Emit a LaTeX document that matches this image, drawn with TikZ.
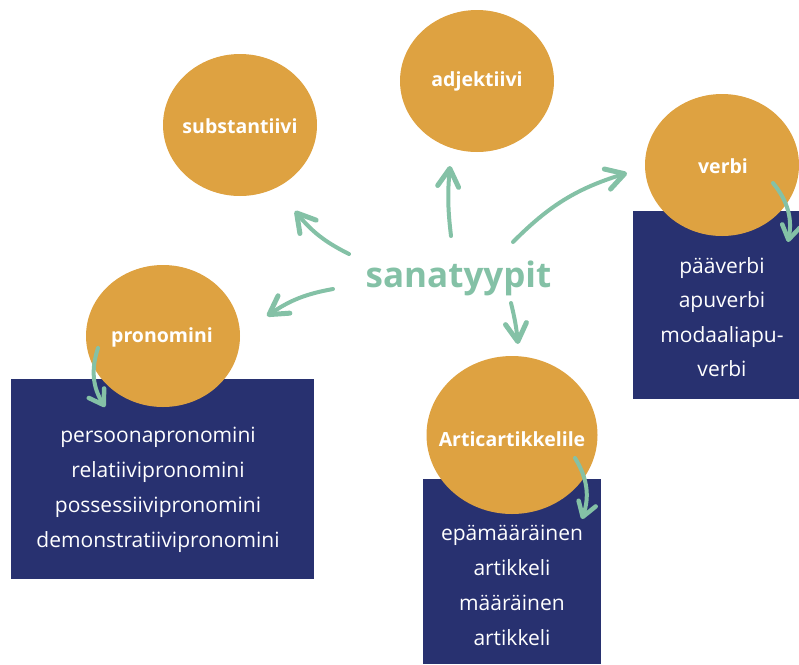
\documentclass[tikz,border=0pt]{standalone}
\usepackage{fontspec}
\setmainfont{Open Sans}
\usetikzlibrary{shapes.geometric,arrows.meta}
\definecolor{orng}{HTML}{DEA241}
\definecolor{navy}{HTML}{283170}
\definecolor{mint}{HTML}{84C1A6}
\begin{document}
\begin{tikzpicture}[x=1pt,y=-1pt,
  bubble/.style={ellipse, fill=orng, inner sep=0pt, minimum width=154pt, minimum height=142pt},
  blabel/.style={text=white, inner sep=0pt, font=\bfseries\fontsize{19.5}{22}\selectfont},
  panel/.style={fill=navy, draw=none, inner sep=0pt},
  plist/.style={text=white, align=center, inner sep=0pt, font=\fontsize{21}{35}\selectfont},
  arr/.style={draw=mint, line width=4pt, line cap=round,
    -{Straight Barb[round, length=18pt, width=21pt, line width=5pt]}},
  sarr/.style={draw=mint, line width=4pt, line cap=round,
    -{Straight Barb[round, length=14pt, width=18pt, line width=4.5pt]}},
  title/.style={text=mint, font=\bfseries\fontsize{35}{40}\selectfont, inner sep=0pt}
]
\useasboundingbox (0,0) rectangle (799,664);

% boxes
\node[panel, minimum width=303pt, minimum height=200pt] (pbox) at (162.5,479) {};
\node[panel, minimum width=166pt, minimum height=188pt] (vbox) at (716,305) {};
\node[panel, minimum width=178pt, minimum height=185pt] (abox) at (512,571.5) {};

% circles
\node[bubble] (subst) at (240,125) {};
\node[bubble] (adj) at (477,81) {};
\node[bubble] (verbi) at (722,165) {};
\node[bubble] (pron) at (163,336) {};
\node[bubble, minimum width=171pt, minimum height=158pt] (art) at (512,435) {};

\node[blabel] (substl) at (240,126) {substantiivi};
\node[blabel] (adjl) at (477,81) {adjektiivi};
\node[blabel] (verbil) at (723,166) {verbi};
\node[blabel] (pronl) at (162,337) {pronomini};
\node[blabel] (artl) at (512,439) {Articartikkelile};

% box texts
\node[plist] (ptext) at (158,490) {persoonapronomini\\relatiivipronomini\\possessiivipronomini\\demonstratiivipronomini};
\node[plist, font=\fontsize{21}{34.5}\selectfont] (vtext) at (722,317) {pääverbi\\apuverbi\\modaaliapu-\\verbi};
\node[plist] (atext) at (512,585) {epämääräinen\\artikkeli\\määräinen\\artikkeli};

% title
\node[title, anchor=base] (title) at (458.5,287) {sanatyypit};

% arrow end points
\coordinate (s1) at (349,254); \coordinate (e1) at (295,211);
\coordinate (s2) at (333,289); \coordinate (e2) at (267,316);
\coordinate (s3) at (451,236); \coordinate (e3) at (450,166);
\coordinate (s4) at (513,242); \coordinate (e4) at (627,173);
\coordinate (s5) at (511,303); \coordinate (e5) at (518,344);
\coordinate (s6) at (773,183); \coordinate (e6) at (788,242);
\coordinate (s7) at (98,348);  \coordinate (e7) at (105,407);
\coordinate (s8) at (575,458); \coordinate (e8) at (582,519);

\draw[arr] (s1) to[bend left=12] (e1);
\draw[arr] (s2) to[bend right=12] (e2);
\draw[arr] (s3) to[bend left=6] (e3);
\draw[arr] (s4) to[bend left=14] (e4);
\draw[arr] (s5) to[bend left=4] (e5);
\draw[sarr] (s6) to[bend left=25] (e6);
\draw[sarr] (s7) to[bend right=25] (e7);
\draw[sarr] (s8) to[bend left=25] (e8);
\end{tikzpicture}
\end{document}
